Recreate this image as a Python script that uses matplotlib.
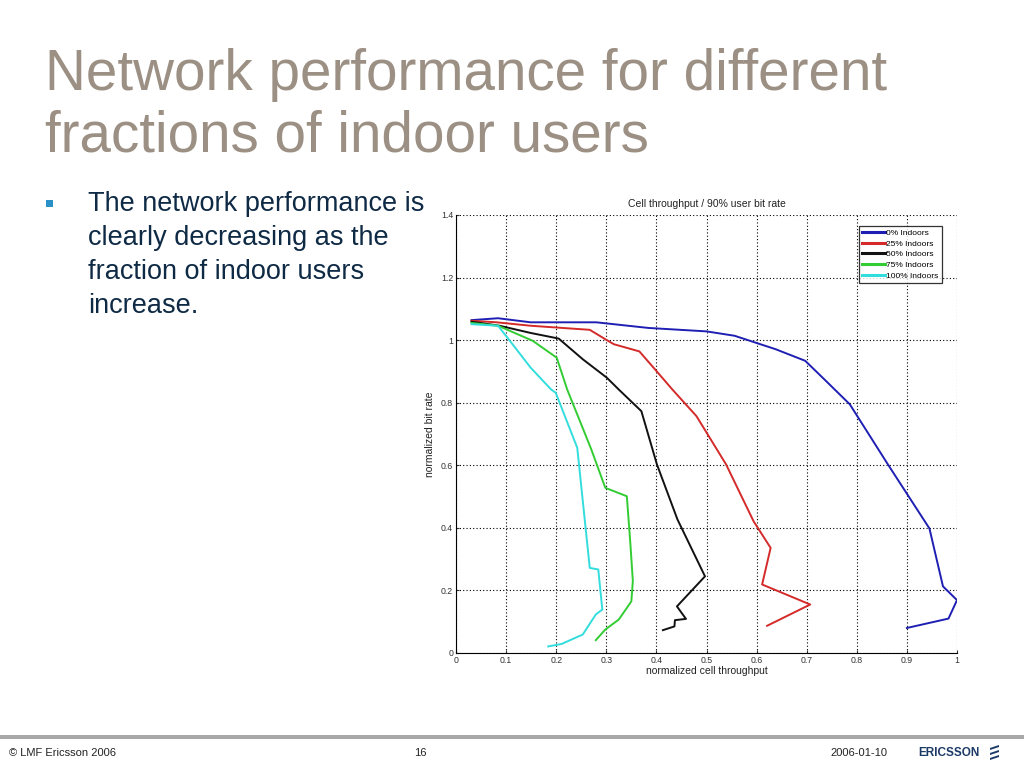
import matplotlib
matplotlib.use("Agg")
import matplotlib.pyplot as plt
from matplotlib.patches import Rectangle, Polygon

plt.rcParams['font.family'] = ['Liberation Sans', 'DejaVu Sans']

# ---- data ----
labels = ["0% Indoors", "25% Indoors", "50% Indoors", "75% Indoors", "100% Indoors"]
colors = ["#1f1fb4", "#d42a2a", "#111111", "#33cc33", "#33dddd"]

x0 = [0.031, 0.084, 0.149, 0.280, 0.384, 0.500, 0.556, 0.638, 0.697, 0.735, 0.786, 0.862, 0.945, 0.972, 1.000, 0.983, 0.900]
y0 = [1.064, 1.070, 1.057, 1.057, 1.039, 1.028, 1.014, 0.971, 0.934, 0.875, 0.795, 0.603, 0.398, 0.213, 0.169, 0.110, 0.080]

x25 = [0.031, 0.081, 0.149, 0.267, 0.298, 0.315, 0.366, 0.397, 0.432, 0.480, 0.539, 0.594, 0.628, 0.611, 0.707, 0.621]
y25 = [1.062, 1.057, 1.046, 1.033, 1.003, 0.987, 0.964, 0.907, 0.842, 0.757, 0.603, 0.421, 0.336, 0.219, 0.155, 0.087]

x50 = [0.031, 0.087, 0.149, 0.205, 0.253, 0.301, 0.325, 0.370, 0.401, 0.442, 0.497, 0.441, 0.459, 0.437, 0.436, 0.413]
y50 = [1.059, 1.046, 1.023, 1.005, 0.939, 0.880, 0.842, 0.773, 0.603, 0.427, 0.245, 0.149, 0.109, 0.105, 0.085, 0.073]

x75 = [0.031, 0.084, 0.153, 0.201, 0.222, 0.270, 0.298, 0.341, 0.348, 0.353, 0.350, 0.325, 0.298, 0.279]
y75 = [1.055, 1.046, 0.998, 0.944, 0.842, 0.651, 0.528, 0.501, 0.350, 0.230, 0.165, 0.107, 0.075, 0.041]

x100 = [0.031, 0.084, 0.105, 0.149, 0.190, 0.199, 0.242, 0.267, 0.284, 0.292, 0.279, 0.253, 0.211, 0.184]
y100 = [1.051, 1.046, 1.003, 0.912, 0.842, 0.832, 0.656, 0.272, 0.267, 0.139, 0.123, 0.059, 0.029, 0.021]

xticks = [0, 0.1, 0.2, 0.3, 0.4, 0.5, 0.6, 0.7, 0.8, 0.9, 1]
xticklabels = ["0", "0.1", "0.2", "0.3", "0.4", "0.5", "0.6", "0.7", "0.8", "0.9", "1"]
yticks = [0, 0.2, 0.4, 0.6, 0.8, 1.0, 1.2, 1.4]
yticklabels = ["0", "0.2", "0.4", "0.6", "0.8", "1", "1.2", "1.4"]

series_x = [x0, x25, x50, x75, x100]
series_y = [y0, y25, y50, y75, y100]

fig = plt.figure(figsize=(10.24, 7.68), dpi=100)
fig.patch.set_facecolor("white")

# slide title
title_col = "#9b9083"
fig.text(45/1024, 1-75/768, "Network performance for different", fontsize=40.8,
         color=title_col, va="center", ha="left")
fig.text(45/1024, 1-136/768, "fractions of indoor users", fontsize=40.8,
         color=title_col, va="center", ha="left")

# bullet
fig.patches.append(Rectangle((46/1024, 1-207/768), 7/1024, 7/768, transform=fig.transFigure,
                             facecolor="#2a90c8", edgecolor="none"))
body = ["The network performance is", "clearly decreasing as the",
        "fraction of indoor users", "increase."]
for i, line in enumerate(body):
    fig.text(88/1024, 1-(204+34*i)/768, line, fontsize=19.5, color="#0f2a45",
             va="center", ha="left")

# chart
ax = fig.add_axes([456/1024, 1-653/768, (957-456)/1024, (653-215)/768])
for xs, ys, c, lab in zip(series_x, series_y, colors, labels):
    ax.plot(xs, ys, color=c, lw=1.4, label=lab)
ax.set_xlim(0, 1)
ax.set_ylim(0, 1.4)
ax.set_xticks(xticks)
ax.set_xticklabels(xticklabels)
ax.set_yticks(yticks)
ax.set_yticklabels(yticklabels)
ax.tick_params(labelsize=6.3, length=2, direction="in", colors="#333333", pad=2)
ax.grid(True, color="black", linestyle=(0, (1, 2)), linewidth=0.8)
for s in ["top", "right"]:
    ax.spines[s].set_visible(False)
ax.spines["left"].set_linewidth(0.8)
ax.spines["bottom"].set_linewidth(0.8)
ax.set_title("Cell throughput / 90% user bit rate", fontsize=7.5, pad=6, color="#222222")
ax.set_xlabel("normalized cell throughput", fontsize=7.5, labelpad=1, color="#222222")
ax.set_ylabel("normalized bit rate", fontsize=7.5, labelpad=4, color="#222222")
leg = ax.legend(loc="upper right", fontsize=6.0, frameon=True, fancybox=False,
                edgecolor="black", borderpad=0.4, handlelength=2.8, labelspacing=0.35,
                handletextpad=0.1, bbox_to_anchor=(0.978, 0.985))
leg.get_frame().set_linewidth(0.9)
for h in leg.legend_handles:
    h.set_linewidth(2.2)

# footer
fig.patches.append(Rectangle((0, 1-739/768), 1, 4/768, transform=fig.transFigure,
                             facecolor="#a8a8a8", edgecolor="none"))
fig.text(9/1024, 1-753/768, "© LMF Ericsson 2006", fontsize=8, color="#222222", va="center")
fig.text(420/1024, 1-753/768, "16", fontsize=8, color="#222222", va="center", ha="center")
fig.text(830/1024, 1-753/768, "2006-01-10", fontsize=8, color="#222222", va="center")
fig.text(918/1024, 1-753/768, "ERICSSON", fontsize=8.5, color="#1c3a66", va="center",
         fontweight="bold")
for k in range(3):
    yb = 745 + k*5
    fig.patches.append(Polygon([[990/1024, 1-(yb+3)/768], [999/1024, 1-yb/768],
                                [999/1024, 1-(yb+2)/768], [990/1024, 1-(yb+5)/768]],
                               closed=True, transform=fig.transFigure,
                               facecolor="#1c3a66", edgecolor="none"))

fig.savefig("out.png", dpi=100, facecolor="white")
